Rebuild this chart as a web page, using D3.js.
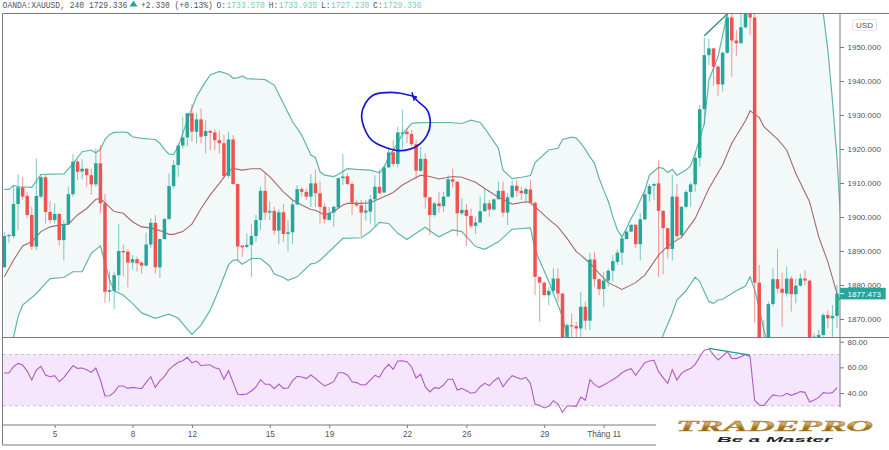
<!DOCTYPE html>
<html><head><meta charset="utf-8">
<script src="https://cdn.jsdelivr.net/npm/d3@7"></script>
<style>html,body{margin:0;padding:0;background:#fff}svg{display:block}</style>
</head><body><div id="chart"></div>
<script>
const opens=[1885.2,1894.4,1894.4,1903.8,1908.7,1906.2,1900.6,1891.3,1906.0,1911.7,
1901.5,1899.1,1900.9,1893.2,1897.9,1906.7,1916.3,1913.4,1914.2,1912.3,
1909.6,1915.8,1904.0,1878.0,1878.3,1882.9,1890.0,1889.8,1886.6,1887.6,
1886.6,1885.7,1891.9,1898.3,1885.2,1893.5,1899.4,1909.1,1915.3,1921.0,
1923.4,1930.5,1925.1,1928.7,1923.8,1925.3,1924.9,1922.6,1921.7,1912.1,
1922.8,1909.7,1891.6,1891.2,1891.8,1894.4,1899.1,1907.7,1901.3,1901.8,
1896.0,1901.4,1895.0,1895.5,1903.7,1908.2,1907.4,1906.0,1909.9,1907.0,
1903.0,1899.1,1901.3,1902.8,1911.4,1912.0,1909.7,1904.2,1903.4,1901.3,
1901.6,1905.2,1908.9,1907.2,1914.6,1919.0,1915.6,1924.8,1925.1,1924.4,
1921.4,1913.6,1917.1,1905.8,1900.6,1904.0,1903.2,1906.0,1911.1,1910.4,
1901.1,1902.1,1900.3,1897.4,1898.4,1901.7,1904.0,1902.2,1905.2,1907.7,
1901.3,1905.8,1909.2,1907.7,1906.8,1908.1,1904.2,1882.4,1880.7,1877.0,
1878.3,1881.9,1877.5,1862.8,1868.2,1867.9,1867.2,1873.6,1869.5,1887.5,
1881.7,1878.8,1881.3,1884.2,1886.8,1889.5,1893.5,1895.7,1897.7,1892.0,
1899.3,1906.7,1909.2,1909.9,1901.8,1896.7,1890.6,1906.0,1894.6,1903.0,
1907.4,1909.6,1917.4,1931.7,1947.6,1949.6,1944.2,1939.0,1948.3,1958.7,
1951.9,1951.1,1955.8,1961.9,1958.7,1880.7,1862.8,1856.0,1874.4,1881.7,
1878.9,1877.5,1881.9,1877.3,1879.8,1881.9,1881.3,1860.9,1862.8,1865.3,1871.2,1870.2,1870.9];
const closes=[1894.4,1894.7,1903.8,1908.7,1906.0,1900.6,1891.3,1906.2,1911.7,1901.5,
1899.1,1900.9,1893.2,1897.9,1906.7,1916.3,1913.3,1914.2,1912.3,1909.6,
1915.8,1904.0,1878.0,1878.5,1882.9,1890.0,1889.6,1886.6,1887.6,1886.4,
1885.7,1891.9,1898.3,1885.2,1893.5,1899.4,1909.1,1915.3,1921.0,1923.4,
1930.5,1925.1,1928.7,1923.6,1925.3,1924.8,1922.6,1921.7,1912.1,1922.8,
1909.7,1891.3,1891.1,1891.8,1894.4,1899.1,1907.7,1901.3,1901.8,1896.0,
1901.4,1895.0,1895.5,1903.7,1908.2,1907.4,1906.0,1909.9,1907.0,1903.0,
1899.3,1901.1,1903.0,1911.4,1911.9,1909.7,1904.2,1903.4,1901.3,1901.9,
1905.2,1908.9,1907.0,1914.6,1919.0,1915.6,1924.9,1924.9,1924.4,1921.4,
1913.6,1917.1,1905.8,1900.6,1904.0,1903.2,1906.0,1911.1,1910.4,1901.1,
1902.1,1900.3,1897.4,1898.4,1901.7,1904.0,1902.2,1905.2,1907.7,1901.3,
1905.8,1909.2,1907.7,1907.0,1908.2,1904.2,1882.4,1880.7,1877.0,1878.3,
1881.9,1877.5,1862.8,1868.2,1867.9,1867.2,1873.6,1869.5,1887.5,1881.7,
1878.8,1881.3,1884.2,1887.0,1889.5,1893.7,1895.7,1897.7,1892.0,1899.3,
1906.7,1909.1,1909.7,1901.8,1896.7,1890.6,1906.0,1894.4,1903.0,1907.4,
1909.6,1917.4,1931.7,1947.6,1949.6,1944.2,1939.0,1948.3,1958.7,1951.9,
1951.1,1955.8,1961.9,1958.7,1880.7,1862.8,1856.0,1874.4,1881.7,1878.9,
1877.7,1881.9,1877.3,1879.8,1881.9,1881.3,1860.9,1864.8,1865.3,1871.2,1870.2,1870.9,1877.47];
const highs=[1895.7,1895.2,1909.1,1912.6,1911.7,1907.4,1903.0,1917.2,1912.3,1912.3,
1904.7,1904.0,1901.1,1899.1,1908.9,1918.5,1916.8,1917.0,1914.5,1914.3,
1920.2,1921.2,1906.8,1883.9,1883.9,1897.9,1891.9,1890.5,1888.8,1888.3,
1886.9,1895.4,1899.6,1900.6,1893.7,1899.6,1912.8,1916.8,1921.7,1929.5,
1930.5,1933.2,1930.5,1931.9,1928.5,1925.6,1925.8,1925.4,1924.1,1925.1,
1924.1,1909.7,1891.6,1895.2,1897.9,1900.6,1908.9,1913.0,1904.5,1903.0,
1902.2,1903.8,1899.1,1905.0,1909.4,1908.7,1908.4,1912.6,1913.8,1910.4,
1904.0,1903.0,1903.3,1911.7,1918.5,1912.8,1910.4,1905.0,1905.0,1905.0,
1906.5,1912.3,1913.8,1915.3,1920.5,1922.6,1926.6,1931.5,1926.1,1925.6,
1922.6,1920.5,1918.7,1905.8,1904.5,1907.4,1907.4,1912.3,1914.3,1910.4,
1905.5,1903.8,1902.5,1900.1,1906.0,1908.4,1905.0,1905.5,1910.4,1910.4,
1907.0,1910.7,1910.9,1908.9,1908.7,1910.9,1904.5,1882.4,1881.0,1879.5,
1884.9,1884.9,1877.5,1868.7,1871.6,1869.2,1878.0,1875.1,1889.5,1889.8,
1882.0,1883.9,1884.9,1888.8,1890.5,1894.7,1896.2,1897.9,1897.9,1901.1,
1907.9,1909.7,1910.1,1916.6,1902.1,1896.7,1912.4,1909.7,1903.2,1907.9,
1910.1,1919.2,1933.0,1952.8,1952.5,1949.6,1944.7,1948.6,1960.5,1961.5,
1955.0,1961.9,1962.8,1962.8,1960.9,1885.9,1869.7,1875.1,1884.9,1890.5,
1883.6,1885.4,1882.6,1881.9,1883.4,1884.4,1881.3,1865.8,1866.8,1871.7,1872.6,1874.1,1880.0];
const lows=[1885.2,1892.4,1893.7,1896.2,1905.0,1899.6,1890.3,1890.3,1905.5,1898.1,
1898.1,1898.1,1891.5,1887.2,1897.6,1906.0,1910.9,1911.1,1908.9,1906.5,
1908.9,1901.1,1874.8,1875.1,1872.8,1878.5,1882.6,1879.3,1884.6,1883.9,
1883.4,1885.4,1890.8,1883.4,1882.0,1893.4,1899.3,1908.4,1911.8,1920.2,
1920.7,1922.2,1921.7,1921.7,1918.7,1919.7,1919.7,1918.7,1911.8,1911.4,
1909.4,1887.3,1888.3,1890.8,1882.4,1892.7,1896.2,1899.1,1899.1,1894.7,
1892.0,1892.7,1889.8,1892.0,1903.5,1906.0,1905.0,1903.0,1903.0,1898.1,
1898.1,1899.1,1897.1,1902.8,1909.4,1909.4,1900.6,1903.0,1894.4,1898.9,
1898.1,1897.3,1906.8,1907.0,1914.3,1914.8,1914.6,1920.2,1921.7,1920.7,
1911.4,1913.3,1902.5,1894.7,1900.1,1901.3,1901.6,1905.8,1908.4,1894.4,
1900.6,1891.5,1896.7,1895.0,1898.1,1901.6,1900.1,1902.0,1905.2,1900.1,
1897.6,1905.5,1906.0,1905.0,1904.0,1904.0,1877.0,1869.2,1877.0,1874.1,
1878.0,1875.1,1860.9,1860.9,1863.8,1862.8,1862.8,1866.8,1866.8,1879.5,
1877.0,1873.6,1879.5,1881.0,1885.9,1885.9,1893.4,1895.7,1890.8,1887.2,
1899.1,1904.5,1905.0,1882.3,1883.2,1887.8,1887.2,1893.4,1894.4,1902.5,
1903.0,1907.4,1915.0,1927.0,1944.7,1938.5,1935.6,1936.9,1947.9,1941.3,
1947.4,1951.1,1955.5,1953.5,1868.9,1861.8,1854.0,1855.0,1873.6,1877.5,
1867.7,1876.6,1872.2,1874.6,1879.5,1880.0,1859.9,1859.9,1861.8,1864.8,1867.3,1864.8,1867.3];

const upperIdx=[0,1,2,3,6,8,10,13,15,17,19,20,21,22,23,24,26,27,28,30,33,34,35,36,37,38,40,42,44,45,47,49,50,51,52,53,57,59,61,63,65,67,68,69,70,72,73,75,77,80,82,83,84,86,87,89,90,93,97,100,102,104,105,108,109,111,113,115,116,119,121,122,124,125,126,127,128,129,130,131,132,133,134,135,136,137,138,140,141,143,144,145,146,147,149,150,151,153,154,156,158,160,164,170,176,179,180,181,182,183];
const upperVal=[1908.1,1908.1,1909.3,1908.9,1908.7,1912.5,1912.6,1912.7,1915.6,1919.2,1919.7,1918.9,1919.9,1922.8,1924.3,1924.9,1925.0,1924.8,1923.6,1923.1,1922.8,1921.7,1919.9,1918.5,1918.4,1920.7,1928.5,1935.4,1939.8,1941.8,1942.8,1942.0,1940.8,1940.9,1941.5,1940.7,1940.4,1938.8,1933.4,1928.0,1924.1,1918.2,1917.5,1913.3,1912.3,1911.9,1912.6,1914.2,1914.0,1913.8,1913.0,1914.6,1917.7,1921.7,1924.4,1927.5,1927.7,1927.8,1927.8,1927.5,1928.5,1927.8,1926.1,1920.2,1913.8,1911.3,1911.7,1912.2,1916.0,1919.7,1920.2,1922.8,1923.5,1923.2,1921.7,1919.9,1917.7,1915.8,1911.4,1907.9,1904.7,1900.1,1896.2,1894.2,1896.7,1899.6,1902.0,1907.9,1912.3,1914.6,1914.3,1913.1,1914.0,1912.3,1913.8,1915.1,1918.7,1927.5,1940.3,1947.2,1959.7,1967.7,1973.6,1974.6,1966.8,1959.9,1949.1,1934.4,1917.3,1895.2];
const basisIdx=[0,2,4,6,8,10,12,14,16,18,20,21,22,24,26,28,30,32,34,36,37,39,41,43,45,47,49,50,52,54,56,58,61,63,65,67,68,70,72,74,75,78,80,82,85,87,89,91,93,95,98,100,103,105,108,111,114,115,117,119,121,123,125,126,128,130,132,135,138,140,143,145,148,151,154,157,159,162,163,165,166,169,171,173,176,178,180,182,183];
const basisVal=[1882.4,1887.3,1891.5,1892.7,1895.7,1897.1,1897.6,1897.9,1900.6,1902.5,1905.2,1905.4,1904.2,1901.6,1901.1,1898.6,1897.1,1896.8,1896.0,1894.9,1894.9,1895.7,1897.9,1902.5,1906.5,1909.9,1913.5,1914.3,1913.8,1914.2,1914.2,1911.9,1907.4,1905.0,1903.5,1902.2,1902.0,1900.6,1901.6,1903.5,1904.0,1904.0,1904.2,1905.4,1907.2,1909.4,1910.9,1912.3,1911.9,1911.2,1911.9,1911.7,1910.2,1908.4,1905.8,1903.8,1904.5,1904.2,1901.8,1899.3,1897.1,1893.7,1889.8,1888.8,1886.4,1883.4,1880.7,1878.7,1880.7,1882.9,1888.8,1891.5,1894.0,1899.6,1908.4,1915.3,1921.7,1928.3,1931.2,1929.3,1926.6,1922.9,1919.7,1912.8,1904.5,1894.2,1886.8,1877.5,1874.6];
const lowerIdx=[0,1,2,3,4,6,7,9,10,13,15,17,19,21,22,23,24,26,28,30,33,36,38,40,41,43,45,47,49,50,51,52,54,56,58,59,61,62,64,67,68,69,72,74,78,80,82,84,86,88,90,92,94,95,98,100,103,105,108,111,115,116,119,120,122,123,125,128,133,140,143,144,146,147,149,151,152,154,155,156,157,160,162,163,164,165,166,167,172,183];
const lowerVal=[1851.1,1857.9,1864.6,1870.7,1874.1,1876.3,1877.5,1880.5,1881.9,1882.2,1883.9,1883.9,1889.3,1891.5,1886.4,1881.5,1878.3,1877.0,1874.6,1871.8,1870.2,1871.4,1870.2,1867.0,1865.5,1868.2,1872.6,1879.0,1885.9,1887.3,1887.3,1886.1,1887.8,1887.8,1885.6,1883.2,1882.2,1881.4,1882.4,1886.2,1886.4,1887.3,1891.1,1893.7,1893.9,1895.7,1898.4,1898.1,1895.2,1893.4,1895.2,1897.0,1895.0,1894.2,1896.2,1895.7,1891.3,1890.5,1892.7,1896.4,1896.8,1890.3,1881.0,1877.5,1870.7,1864.8,1856.0,1846.2,1838.3,1851.1,1861.8,1865.3,1871.7,1875.6,1878.3,1882.3,1881.0,1875.1,1874.6,1875.6,1875.8,1878.3,1879.7,1882.4,1878.5,1873.1,1866.8,1861.8,1836.4,1826.5];
const rsiValues=[55.6,55.6,60.5,63.1,61.8,57.1,50.1,57.9,60.8,54.0,52.7,53.5,48.8,52.0,56.6,61.3,59.2,59.5,58.2,56.1,
59.5,50.1,37.7,37.9,40.5,45.5,45.5,43.6,44.4,43.9,43.4,48.3,52.7,44.4,49.4,53.0,58.2,61.3,63.9,65.2,
67.8,63.6,64.9,61.3,61.8,61.8,59.7,58.7,50.7,57.4,48.3,39.0,38.7,39.2,41.6,44.7,50.4,46.8,46.8,43.4,
47.0,43.6,43.9,49.6,53.0,52.5,51.2,54.0,51.4,48.3,45.5,47.0,48.8,55.8,55.8,54.0,48.8,48.1,46.2,46.5,
50.1,53.8,52.2,58.5,62.3,58.5,64.9,65.2,64.4,60.5,51.7,54.6,44.9,40.8,44.2,43.6,46.2,50.7,50.7,42.3,
43.6,41.8,39.8,40.5,44.9,47.5,45.7,49.4,52.0,44.9,49.6,53.5,52.0,50.7,52.2,47.5,31.2,30.4,28.3,29.6,
34.0,31.4,25.0,29.9,29.9,29.6,36.9,34.3,50.4,46.5,44.4,46.2,48.3,50.4,52.7,55.8,57.7,59.0,53.8,58.7,
63.6,64.9,65.5,56.6,52.0,47.5,58.2,50.1,55.3,57.7,59.0,62.3,68.3,73.3,74.3,69.9,65.7,68.8,72.2,67.0,
66.8,68.3,70.1,68.3,34.3,30.7,30.2,34.6,38.5,37.9,37.7,39.8,38.2,39.5,41.1,40.5,33.0,34.6,36.6,40.3,39.8,40.3,44.2];

const priceTicks=[1870,1880,1890,1900,1910,1920,1930,1940,1950];
const rsiTicks=[40,60,80];
const rsiBands=[30,70];
const timeIdx=[11,28,41,58,71,88,101,118,131];
const timeLabels=["5","8","12","15","19","22","26","29","Tháng 11"];
const lastPrice=1877.473;
const headerStats={O:"1733.570",H:"1733.935",L:"1727.230",C:"1729.336"};
const priceTrendIdx=[153,158], priceTrendVal=[1953.3,1959.7];
const rsiTrendIdx=[154,163], rsiTrendVal=[74.8,69.6];
const circleIdx=[90.2,86.5,83.6,80.7,78.9,78.1,78.7,80.3,83.2,86.5,90.2,92.4,93.1,92.4,90.5,89.3];
const circleVal=[1935.2,1936.4,1936.6,1935.9,1933.4,1930.0,1926.1,1922.6,1920.5,1919.5,1920.9,1924.1,1927.5,1931.5,1933.9,1935.6];
const circleTickIdx=[89.1,89.6], circleTickVal=[1936.7,1934.2];

const W=889,H=450,UP="#26a69a",DOWN="#ef5350",AX="#787b86",TXT="#50535e";
const svg=d3.select("#chart").append("svg").attr("width",W).attr("height",H).attr("viewBox",`0 0 ${W} ${H}`);
const defs=svg.append("defs");
defs.append("clipPath").attr("id","cpMain").append("rect").attr("x",3).attr("y",14).attr("width",837).attr("height",323.5);
defs.append("clipPath").attr("id","cpRsi").append("rect").attr("x",3).attr("y",338).attr("width",837).attr("height",87);
const gold=defs.append("linearGradient").attr("id","gold").attr("x1",0).attr("x2",0).attr("y1",0).attr("y2",1);
[["0%","#7a5a1c"],["35%","#d8b264"],["55%","#a87a2c"],["100%","#6d4c14"]].forEach(s=>gold.append("stop").attr("offset",s[0]).attr("stop-color",s[1]));

const x=d3.scaleLinear().domain([0,182]).range([4.33,837]);
const y=d3.scaleLinear().domain([1870,1950]).range([319,47]);
const yR=d3.scaleLinear().domain([40,80]).range([393,341.7]);

const main=svg.append("g").attr("clip-path","url(#cpMain)");
const line=d3.line();
const pts=(ix,vs,sy)=>ix.map((d,i)=>[x(d),sy(vs[i])]);
const up=pts(upperIdx,upperVal,y), lo=pts(lowerIdx,lowerVal,y);
main.append("path").attr("d",line(up.concat(lo.slice().reverse()))+"Z").attr("fill","#f3f9f9");
main.append("path").attr("d",line(up)).attr("fill","none").attr("stroke","#5fb5aa").attr("stroke-width",1.2);
main.append("path").attr("d",line(lo)).attr("fill","none").attr("stroke","#5fb5aa").attr("stroke-width",1.2);
main.append("path").attr("d",line(pts(basisIdx,basisVal,y))).attr("fill","none").attr("stroke","#a56a6a").attr("stroke-width",1.1);

const isUp=i=>closes[i]>=opens[i];
const cand=main.append("g");
cand.selectAll("rect.w").data(d3.range(opens.length)).join("rect").attr("class","w")
 .attr("x",i=>x(i)-0.5).attr("width",1).attr("y",i=>y(highs[i])).attr("height",i=>y(lows[i])-y(highs[i]))
 .attr("fill",i=>isUp(i)?UP:DOWN).attr("opacity",.6);
cand.selectAll("rect.b").data(d3.range(opens.length)).join("rect").attr("class","b")
 .attr("x",i=>x(i)-1.75).attr("width",3.5)
 .attr("y",i=>y(Math.max(opens[i],closes[i])))
 .attr("height",i=>Math.max(1.2,Math.abs(y(opens[i])-y(closes[i]))))
 .attr("fill",i=>isUp(i)?UP:DOWN);

main.append("path").attr("d",line(pts(priceTrendIdx,priceTrendVal,y))).attr("stroke","#1f8f84").attr("stroke-width",1.3).attr("fill","none");
main.append("path").attr("d",d3.line().curve(d3.curveCatmullRom)(pts(circleIdx,circleVal,y))).attr("stroke","#1616d6").attr("stroke-width",1.7).attr("fill","none");
main.append("path").attr("d",line(pts(circleTickIdx,circleTickVal,y))).attr("stroke","#1616d6").attr("stroke-width",1.5).attr("fill","none");

// RSI pane
const rp=svg.append("g").attr("clip-path","url(#cpRsi)");
rp.append("rect").attr("x",3).attr("y",yR(rsiBands[1])).attr("width",837).attr("height",yR(rsiBands[0])-yR(rsiBands[1])).attr("fill","#f5e6fd");
rp.selectAll("line.b").data(rsiBands).join("line").attr("class","b").attr("x1",3).attr("x2",840).attr("y1",d=>yR(d)).attr("y2",d=>yR(d)).attr("stroke","#c9bfcc").attr("stroke-dasharray","3 3");
rp.append("path").attr("d",line(rsiValues.map((v,i)=>[x(i),yR(v)]))).attr("fill","none").attr("stroke","#ae5cc4").attr("stroke-width",1.1);
rp.append("path").attr("d",line(pts(rsiTrendIdx,rsiTrendVal,yR))).attr("fill","none").attr("stroke","#1f9a8e").attr("stroke-width",1.3);

// frame
const fr=svg.append("g").attr("stroke",AX).attr("stroke-width",1).attr("fill","none");
fr.append("path").attr("d","M2.5 13.5H889M2.5 337.5H889M2.5 425H656M2.5 13.5V445M2.5 445H656M840 13.5V407");

// axes
const tf=g=>{g.select(".domain").remove();g.selectAll(".tick line").attr("stroke",AX);g.selectAll("text").attr("fill",TXT).attr("font-family","'Liberation Sans',sans-serif");};
svg.append("g").attr("transform","translate(840,0)").call(d3.axisRight(y).tickValues(priceTicks).tickFormat(d3.format(".3f")).tickSize(4).tickPadding(3.5)).call(tf).selectAll("text").attr("font-size",8);
svg.append("g").attr("transform","translate(840,0)").call(d3.axisRight(yR).tickValues(rsiTicks).tickFormat(d3.format(".2f")).tickSize(4).tickPadding(3.5)).call(tf).selectAll("text").attr("font-size",8);
svg.append("g").attr("transform","translate(0,425)").call(d3.axisBottom(x).tickValues(timeIdx).tickFormat((d,i)=>timeLabels[i]).tickSize(3).tickPadding(3)).call(tf).selectAll("text").attr("font-size",8.2);

// USD button & price tag
svg.append("rect").attr("x",852.5).attr("y",19.5).attr("width",24).attr("height",11).attr("rx",2).attr("fill","#fff").attr("stroke","#e0e3eb");
svg.append("text").attr("x",864.5).attr("y",27.5).attr("text-anchor","middle").attr("font-size",8).attr("font-family","'Liberation Sans',sans-serif").attr("fill",TXT).text("USD");
const py=y(lastPrice);
svg.append("rect").attr("x",840).attr("y",py-5.8).attr("width",45.7).attr("height",11.6).attr("fill",UP);
svg.append("line").attr("x1",840).attr("x2",844).attr("y1",py).attr("y2",py).attr("stroke","#fff");
svg.append("text").attr("x",847.5).attr("y",py+3).attr("font-size",8).attr("fill","#fff").attr("font-family","'Liberation Sans',sans-serif").text(d3.format(".3f")(lastPrice));

// header
const hd=svg.append("g").attr("font-family","'Liberation Mono','DejaVu Sans Mono',monospace").attr("font-size",8);
const ht=(xx,s,c)=>hd.append("text").attr("transform",`translate(${xx},7.5) scale(1,1.15)`).attr("fill",c).text(s);
ht(2.6,"OANDA:XAUUSD, 240 1729.336",TXT);
hd.append("path").attr("d","M129.5 6.5L133.5 0.5L137.5 6.5Z").attr("fill",UP);
ht(141,"+2.330 (+0.13%)",TXT);
let hx=216.5;
Object.entries(headerStats).forEach(([k,v])=>{ht(hx,k+":",TXT);ht(hx+10,v,"#7ccabf");hx+=52.2;});

// logo area
const lg=svg.append("g");
lg.append("rect").attr("x",656).attr("y",407).attr("width",233).attr("height",43).attr("fill","#fff");
lg.append("text").attr("x",676).attr("y",431).attr("font-family","'Liberation Serif',serif").attr("font-weight","bold").attr("font-style","italic").attr("font-size",15).attr("textLength",197).attr("lengthAdjust","spacingAndGlyphs").attr("fill","url(#gold)").attr("stroke","#b48a3e").attr("stroke-width",.4).text("TRADEPRO");
lg.append("text").attr("x",717).attr("y",441.5).attr("font-family","'Liberation Sans',sans-serif").attr("font-weight","bold").attr("font-style","italic").attr("font-size",8).attr("textLength",115).attr("lengthAdjust","spacingAndGlyphs").attr("fill","#1f1f1f").text("Be a Master");
</script></body></html>
